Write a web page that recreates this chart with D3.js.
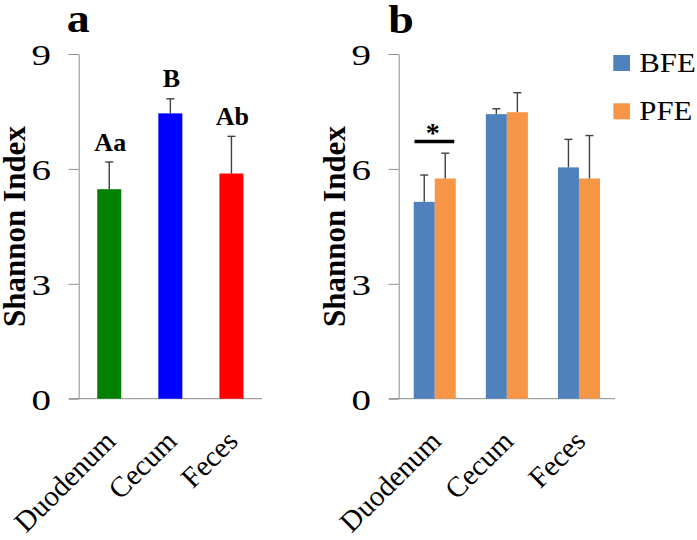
<!DOCTYPE html>
<html>
<head>
<meta charset="utf-8">
<script src="https://cdn.jsdelivr.net/npm/d3@7"></script>
<style>
  html, body { margin: 0; padding: 0; background: #fff; }
  svg { display: block; }
  text { font-family: "Liberation Serif", serif; fill: #000; }
</style>
</head>
<body>
<svg id="chart" width="697" height="540"></svg>
<script>
// ---- data ----
const categories = ["Duodenum", "Cecum", "Feces"];
const yTicks = [0, 3, 6, 9];

// panel a
const panelAValues = [5.47, 7.45, 5.88];
const panelAErrors = [0.71, 0.38, 0.97];
const panelALetters = ["Aa", "B", "Ab"];

// panel b
const seriesNames = ["BFE", "PFE"];
const bfeValues = [5.14, 7.43, 6.04];
const bfeErrors = [0.70, 0.14, 0.73];
const pfeValues = [5.75, 7.48, 5.75];
const pfeErrors = [0.66, 0.51, 1.12];

// ---- styles ----
const FONT = '"Liberation Serif", serif';
const panelAColors = ["#008000", "#0000ff", "#ff0000"];
const seriesColors = { BFE: "#4f81bd", PFE: "#f79646" };
const axisColor = "#8c8c8c";
const errColor = "#404040";

const svg = d3.select("#chart");

const y = d3.scaleLinear().domain([0, 9]).range([398.7, 54]);

function drawAxes(g, x, x0, x1, tickLabelRight) {
  const ya = g.append("g")
    .attr("transform", `translate(${x0},0)`)
    .attr("font-family", FONT)
    .call(d3.axisLeft(y).tickValues(yTicks).tickSize(10).tickSizeOuter(0).tickFormat(d3.format("d")));
  ya.select(".domain").attr("stroke", axisColor);
  ya.selectAll(".tick line").attr("stroke", axisColor);
  ya.selectAll(".tick text")
    .attr("x", -tickLabelRight / 1.3)
    .attr("dy", "0.35em")
    .attr("transform", "scale(1.3,1)")
    .style("font-size", "30px")
    .style("font-family", FONT)
    .attr("fill", "#000");
  g.append("line")
    .attr("x1", x0 - 10).attr("x2", x1)
    .attr("y1", y(0)).attr("y2", y(0))
    .attr("stroke", axisColor).attr("stroke-width", 1);
  const xa = g.append("g")
    .attr("transform", `translate(0,${y(0)})`)
    .attr("font-family", FONT)
    .call(d3.axisBottom(x).tickSize(0));
  xa.select(".domain").remove();
  xa.selectAll(".tick text")
    .attr("x", 0).attr("y", 0).attr("dy", 0)
    .attr("text-anchor", "end")
    .attr("transform", "translate(8,44) rotate(-45)")
    .style("font-size", "29px")
    .style("font-family", FONT)
    .attr("fill", "#000");
}

function errorBar(g, cx, v, e) {
  g.append("line")
    .attr("x1", cx).attr("x2", cx)
    .attr("y1", y(v)).attr("y2", y(v + e))
    .attr("stroke", errColor).attr("stroke-width", 1.4);
  g.append("line")
    .attr("x1", cx - 4).attr("x2", cx + 4)
    .attr("y1", y(v + e)).attr("y2", y(v + e))
    .attr("stroke", errColor).attr("stroke-width", 1.4);
}

// ---------- Panel a ----------
{
  const g = svg.append("g");
  const x0 = 78.7, x1 = 262;
  const x = d3.scaleBand().domain(categories).range([x0, x1]).paddingInner(0.607).paddingOuter(0.3035);
  drawAxes(g, x, x0, x1, 27.6);

  categories.forEach((c, i) => {
    g.append("rect")
      .attr("x", x(c)).attr("width", x.bandwidth())
      .attr("y", y(panelAValues[i])).attr("height", y(0) - y(panelAValues[i]))
      .attr("fill", panelAColors[i]);
    const cx = x(c) + x.bandwidth() / 2;
    errorBar(g, cx, panelAValues[i], panelAErrors[i]);
    g.append("text")
      .attr("x", cx + 1)
      .attr("y", y(panelAValues[i] + panelAErrors[i]) - 11.5)
      .attr("text-anchor", "middle")
      .style("font-size", "26px").style("font-weight", "bold")
      .text(panelALetters[i]);
  });

  g.append("text")
    .attr("transform", "translate(25,226.5) rotate(-90)")
    .attr("text-anchor", "middle")
    .style("font-size", "31px").style("font-weight", "bold")
    .text("Shannon Index");

  g.append("text")
    .attr("transform", "translate(66.7,32) scale(1.15,1)")
    .style("font-size", "40px").style("font-weight", "bold")
    .text("a");
}

// ---------- Panel b ----------
{
  const g = svg.append("g");
  const x0 = 398.7, x1 = 615;
  const x = d3.scaleBand().domain(categories).range([x0, x1]).paddingInner(0.417).paddingOuter(0.2085);
  const xs = d3.scaleBand().domain(seriesNames).range([0, x.bandwidth()]).padding(0);
  drawAxes(g, x, x0, x1, 27.6);

  const seriesData = { BFE: [bfeValues, bfeErrors], PFE: [pfeValues, pfeErrors] };
  seriesNames.forEach(s => {
    const [vals] = seriesData[s];
    categories.forEach((c, i) => {
      g.append("rect")
        .attr("x", x(c) + xs(s)).attr("width", xs.bandwidth())
        .attr("y", y(vals[i])).attr("height", y(0) - y(vals[i]))
        .attr("fill", seriesColors[s]);
    });
  });
  seriesNames.forEach(s => {
    const [vals, errs] = seriesData[s];
    categories.forEach((c, i) => {
      errorBar(g, x(c) + xs(s) + xs.bandwidth() / 2, vals[i], errs[i]);
    });
  });

  const sigTop = Math.max(bfeValues[0] + bfeErrors[0], pfeValues[0] + pfeErrors[0]);
  const sy = y(sigTop) - 11.7;
  g.append("line")
    .attr("x1", x("Duodenum") + 0.7).attr("x2", x("Duodenum") + x.bandwidth() - 1.5)
    .attr("y1", sy).attr("y2", sy)
    .attr("stroke", "#000").attr("stroke-width", 3.3);
  g.append("text")
    .attr("x", x("Duodenum") + x.bandwidth() / 2 - 2)
    .attr("y", sy + 1)
    .attr("text-anchor", "middle")
    .style("font-size", "28px").style("font-weight", "bold")
    .text("*");

  g.append("text")
    .attr("transform", "translate(345,226.5) rotate(-90)")
    .attr("text-anchor", "middle")
    .style("font-size", "31px").style("font-weight", "bold")
    .text("Shannon Index");

  g.append("text")
    .attr("transform", "translate(388.3,33) scale(1.15,1)")
    .style("font-size", "40px").style("font-weight", "bold")
    .text("b");

  const leg = g.append("g");
  seriesNames.forEach((s, i) => {
    const ly = 55 + i * 48.3;
    leg.append("rect")
      .attr("x", 613.3).attr("y", ly).attr("width", 16.7).attr("height", 16)
      .attr("fill", seriesColors[s]);
    leg.append("text")
      .attr("transform", `translate(639.3,${ly + 16.7}) scale(1.1,1)`)
      .style("font-size", "28px")
      .text(s);
  });
}
</script>
</body>
</html>
